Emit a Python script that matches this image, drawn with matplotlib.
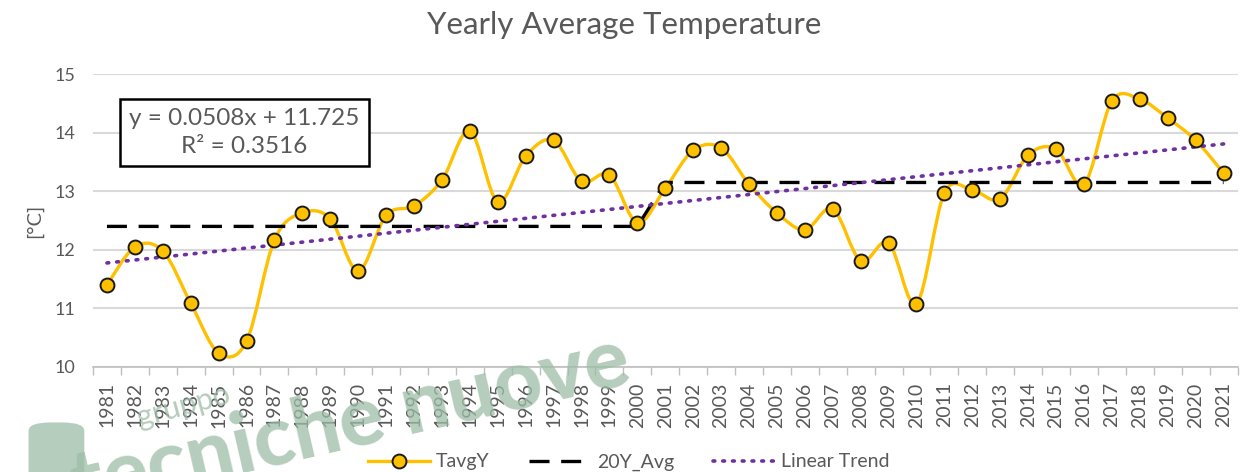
import matplotlib
matplotlib.use("Agg")
import matplotlib.pyplot as plt
from matplotlib.path import Path
from matplotlib.patches import PathPatch, FancyBboxPatch
from matplotlib.lines import Line2D

plt.rcParams['font.family'] = ['Lato', 'DejaVu Sans']

# data
years = list(range(1981, 2022))
tavg = [11.40, 12.05, 11.98, 11.09, 10.24, 10.44, 12.17, 12.63, 12.53, 11.64,
        12.59, 12.75, 13.19, 14.03, 12.82, 13.60, 13.87, 13.17, 13.28, 12.46,
        13.05, 13.70, 13.74, 13.12, 12.63, 12.34, 12.70, 11.81, 12.12, 11.08,
        12.97, 13.02, 12.87, 13.62, 13.72, 13.12, 14.54, 14.57, 14.25, 13.87,
        13.31]
avg20 = [12.40] * 20 + [13.15] * 21
# Excel trendline shown on the chart (x = 1..41)
slope = 0.0508
intercept = 11.725
r2 = 0.3516

GRAY = '#595959'
GOLD = '#FFC000'
PURPLE = '#7030A0'
WM = '#9dbda7'

fig = plt.figure(figsize=(12.4, 4.72), dpi=100)
ax = fig.add_axes([0.075, 0.2225, 0.923, 0.6205])

idx = list(range(1, len(years) + 1))

# smoothed line like Excel (catmull-rom bezier)
verts = [(idx[0], tavg[0])]
codes = [Path.MOVETO]
n = len(idx)
for i in range(n - 1):
    p0 = (idx[max(i - 1, 0)], tavg[max(i - 1, 0)])
    p1 = (idx[i], tavg[i])
    p2 = (idx[i + 1], tavg[i + 1])
    p3 = (idx[min(i + 2, n - 1)], tavg[min(i + 2, n - 1)])
    c1 = (p1[0] + (p2[0] - p0[0]) / 6, p1[1] + (p2[1] - p0[1]) / 6)
    c2 = (p2[0] - (p3[0] - p1[0]) / 6, p2[1] - (p3[1] - p1[1]) / 6)
    verts += [c1, c2, p2]
    codes += [Path.CURVE4] * 3
ax.add_patch(PathPatch(Path(verts, codes), facecolor='none', edgecolor=GOLD,
                       lw=2.4, zorder=3))
ax.plot(idx, tavg, 'o', ms=10, mfc=GOLD, mec='#1a1a1a', mew=1.4, zorder=5)

ax.plot(idx, avg20, color='black', lw=2.4, ls=(0, (6, 3.5)), zorder=4)

trend = [slope * x + intercept for x in idx]
ax.plot(idx, trend, color=PURPLE, lw=2.6, ls=(0, (0.5, 2.2)),
        dash_capstyle='round', zorder=4)

ax.set_xlim(0.5, n + 0.5)
ax.set_ylim(10, 15)
ax.set_yticks([10, 11, 12, 13, 14, 15])
ax.set_xticks(idx)
ax.set_xticklabels([str(y) for y in years], rotation=90)
ax.set_xticks([i + 0.5 for i in range(0, n + 1)], minor=True)
ax.tick_params(axis='x', which='major', length=0, pad=11, labelsize=14,
               labelcolor=GRAY)
ax.tick_params(axis='x', which='minor', length=6, color='#BFBFBF', width=1)
ax.tick_params(axis='y', length=0, pad=13, labelsize=13, labelcolor=GRAY)
ax.grid(axis='y', color='#D9D9D9', lw=1.5)
ax.set_axisbelow(True)
for s in ['top', 'right', 'left']:
    ax.spines[s].set_visible(False)
ax.spines['bottom'].set_color('#BFBFBF')
ax.spines['bottom'].set_linewidth(1.2)

ax.set_ylabel('[°C]', fontsize=14.5, color=GRAY, labelpad=8)
fig.text(0.503, 0.947, 'Yearly Average Temperature', fontsize=22.5,
         color=GRAY, ha='center', va='center')

fig.text(0.197, 0.719, f'y = {slope}x + {intercept}\nR² = {r2}',
         ha='center', va='center', fontsize=17.5, color=GRAY,
         linespacing=1.4,
         bbox=dict(boxstyle='square,pad=0.38', fc='white', ec='black', lw=1.8))

handles = [
    Line2D([], [], color=GOLD, lw=2.4, marker='o', ms=10, mfc=GOLD,
           mec='#1a1a1a', mew=1.4),
    Line2D([], [], color='black', lw=2.4, ls=(0, (6, 3.5))),
    Line2D([], [], color=PURPLE, lw=2.6, ls=(0, (0.5, 2.2)),
           dash_capstyle='round'),
]
fig.legend(handles, ['TavgY', '20Y_Avg', 'Linear Trend'], loc='center',
           bbox_to_anchor=(0.507, 0.021), ncol=3, frameon=False, fontsize=14,
           labelcolor=GRAY, handlelength=3.2, columnspacing=2.0,
           handletextpad=0.3, borderpad=0)

# publisher watermark
fig.text(0.283, 0.105, 'tecniche nuove', fontsize=60, fontweight='black',
         color=WM, alpha=0.75, rotation=13, ha='center', va='center',
         zorder=10)
fig.text(0.148, 0.14, 'gruppo', fontsize=22, color=WM, alpha=0.75,
         rotation=15, ha='center', va='center', zorder=10)
fig.add_artist(FancyBboxPatch((0.028, -0.05), 0.035, 0.15,
                              boxstyle='round,pad=0.005,rounding_size=0.018',
                              transform=fig.transFigure, fc=WM, ec='none',
                              alpha=0.75, zorder=10))

fig.savefig('out.png', dpi=100)
